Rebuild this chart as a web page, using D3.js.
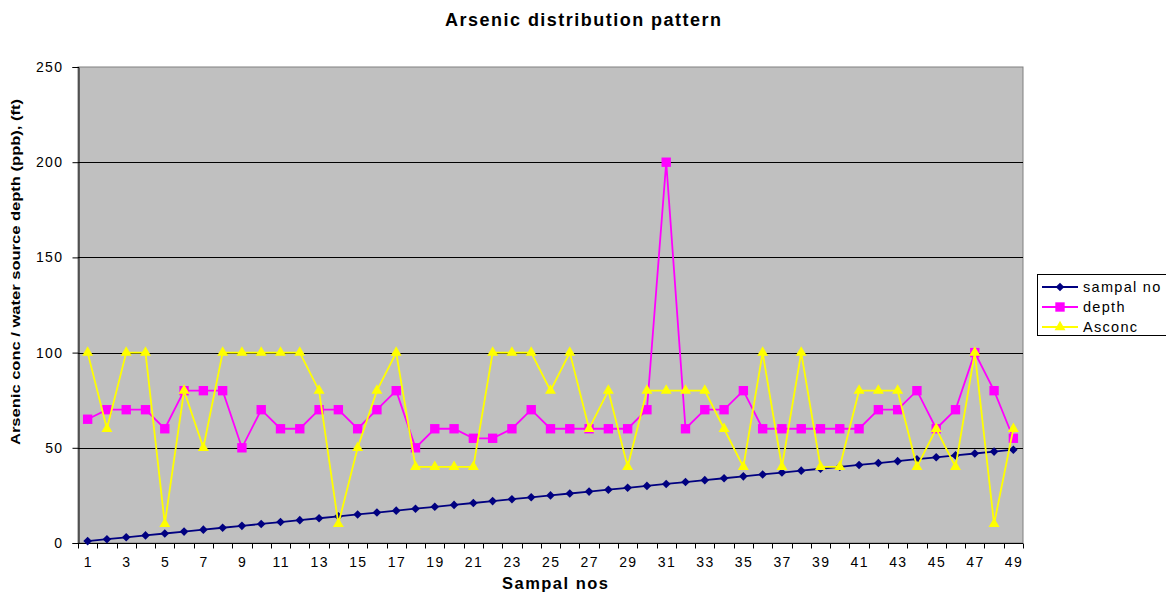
<!DOCTYPE html>
<html>
<head>
<meta charset="utf-8">
<script src="https://cdn.jsdelivr.net/npm/d3@7"></script>
<style>
  html, body { margin: 0; padding: 0; background: #fff; }
  svg { display: block; font-family: "Liberation Sans", Arial, sans-serif; }
</style>
</head>
<body>
<svg id="chart" width="1166" height="592"></svg>
<script>
// Sample numbers along the x axis
const samples = d3.range(1, 50);
// Series values per sample
const sampalNo = samples.slice();
const depth = [65, 70, 70, 70, 60, 80, 80, 80, 50, 70, 60, 60, 70, 70, 60, 70, 80, 50, 60, 60,
               55, 55, 60, 70, 60, 60, 60, 60, 60, 70, 200, 60, 70, 70, 80, 60, 60, 60, 60, 60,
               60, 70, 70, 80, 60, 70, 100, 80, 55];
const asconc = [100, 60, 100, 100, 10, 80, 50, 100, 100, 100, 100, 100, 80, 10, 50, 80, 100, 40, 40, 40,
                40, 100, 100, 100, 80, 100, 60, 80, 40, 80, 80, 80, 80, 60, 40, 100, 40, 100, 40, 40,
                80, 80, 80, 40, 60, 40, 100, 10, 60];
const yTicks = [0, 50, 100, 150, 200, 250];

const series = [
  { name: "sampal no", values: sampalNo, color: "#000080", marker: "diamond" },
  { name: "depth", values: depth, color: "#FF00FF", marker: "square" },
  { name: "Asconc", values: asconc, color: "#FFFF00", marker: "triangle" }
];

const svg = d3.select("#chart");
const m = { left: 78, top: 67, right: 1023, bottom: 543 };

const x = d3.scaleBand().domain(samples).range([m.left, m.right]);
const y = d3.scaleLinear().domain([0, 250]).range([m.bottom, m.top]);
const cx = d => x(d) + x.bandwidth() / 2;

// Plot area
svg.append("rect")
  .attr("x", m.left).attr("y", m.top)
  .attr("width", m.right - m.left).attr("height", m.bottom - m.top)
  .attr("fill", "#C0C0C0").attr("stroke", "#808080").attr("stroke-width", 1);

// Horizontal gridlines
svg.append("g").selectAll("line")
  .data(yTicks.filter(t => t > 0 && t < 250))
  .join("line")
  .attr("x1", m.left).attr("x2", m.right)
  .attr("y1", d => Math.round(y(d)) + 0.5).attr("y2", d => Math.round(y(d)) + 0.5)
  .attr("stroke", "#000").attr("stroke-width", 1);

// Y axis
const yAxis = svg.append("g")
  .attr("transform", `translate(${m.left + 0.5},0)`)
  .call(d3.axisLeft(y).tickValues(yTicks).tickSize(6).tickPadding(9));
yAxis.select(".domain").attr("stroke", "#000");
yAxis.selectAll("text").attr("font-size", 14).attr("fill", "#000")
  .attr("letter-spacing", 1.4)
  .attr("font-family", "Liberation Sans, Arial, sans-serif");

// X axis: ticks at category boundaries, labels on odd samples
const xAxisG = svg.append("g").attr("transform", `translate(0,${m.bottom + 0.5})`);
xAxisG.append("line")
  .attr("x1", m.left).attr("x2", m.right).attr("stroke", "#000");
xAxisG.selectAll("line.tk")
  .data(d3.range(0, samples.length + 1))
  .join("line").attr("class", "tk")
  .attr("x1", i => Math.round(m.left + i * x.step()) + 0.5)
  .attr("x2", i => Math.round(m.left + i * x.step()) + 0.5)
  .attr("y1", 0).attr("y2", 5).attr("stroke", "#000");
xAxisG.selectAll("text")
  .data(samples.filter(d => d % 2 === 1))
  .join("text")
  .attr("x", d => cx(d) + 0.7).attr("y", 23)
  .attr("text-anchor", "middle").attr("font-size", 14).attr("fill", "#000")
  .attr("letter-spacing", 1.4)
  .text(d => d);

// Marker shapes
const diamond = (r) => `M0,${-r}L${r},0L0,${r}L${-r},0Z`;
const symbolFor = {
  diamond: () => diamond(4.3),
  square: d3.symbol().type(d3.symbolSquare).size(88),
  triangle: d3.symbol().type(d3.symbolTriangle).size(52)
};

const line = d3.line().x((v, i) => cx(samples[i])).y(v => y(v));

series.forEach(s => {
  const g = svg.append("g");
  g.append("path")
    .attr("d", line(s.values))
    .attr("fill", "none").attr("stroke", s.color).attr("stroke-width", 1.8);
  g.selectAll("path.mk")
    .data(s.values)
    .join("path").attr("class", "mk")
    .attr("transform", (v, i) => `translate(${cx(samples[i])},${y(v)})`)
    .attr("d", symbolFor[s.marker]())
    .attr("fill", s.color);
});

// Title
svg.append("text")
  .attr("x", 583).attr("y", 26)
  .attr("text-anchor", "middle").attr("font-size", 18).attr("font-weight", "bold")
  .attr("textLength", 276).attr("lengthAdjust", "spacing")
  .text("Arsenic distribution pattern");

// Axis titles
svg.append("text")
  .attr("x", 555).attr("y", 589)
  .attr("text-anchor", "middle").attr("font-size", 16.5).attr("font-weight", "bold")
  .attr("textLength", 106).attr("lengthAdjust", "spacing")
  .text("Sampal nos");

svg.append("text")
  .attr("transform", "translate(20,272) rotate(-90)")
  .attr("text-anchor", "middle").attr("font-size", 12.5).attr("font-weight", "bold")
  .attr("textLength", 346).attr("lengthAdjust", "spacingAndGlyphs")
  .text("Arsenic conc / water source depth (ppb), (ft)");

// Legend
const lg = svg.append("g");
lg.append("rect")
  .attr("x", 1037.5).attr("y", 274.5).attr("width", 140).attr("height", 61)
  .attr("fill", "#fff").attr("stroke", "#000");
series.forEach((s, i) => {
  const ly = 287 + i * 20;
  lg.append("line")
    .attr("x1", 1042).attr("x2", 1078).attr("y1", ly).attr("y2", ly)
    .attr("stroke", s.color).attr("stroke-width", 1.8);
  lg.append("path")
    .attr("transform", `translate(1060,${ly})`)
    .attr("d", symbolFor[s.marker]())
    .attr("fill", s.color);
  lg.append("text")
    .attr("x", 1083).attr("y", ly + 5)
    .attr("font-size", 14.5).attr("fill", "#000")
    .attr("letter-spacing", 1.3)
    .text(s.name);
});
</script>
</body>
</html>
